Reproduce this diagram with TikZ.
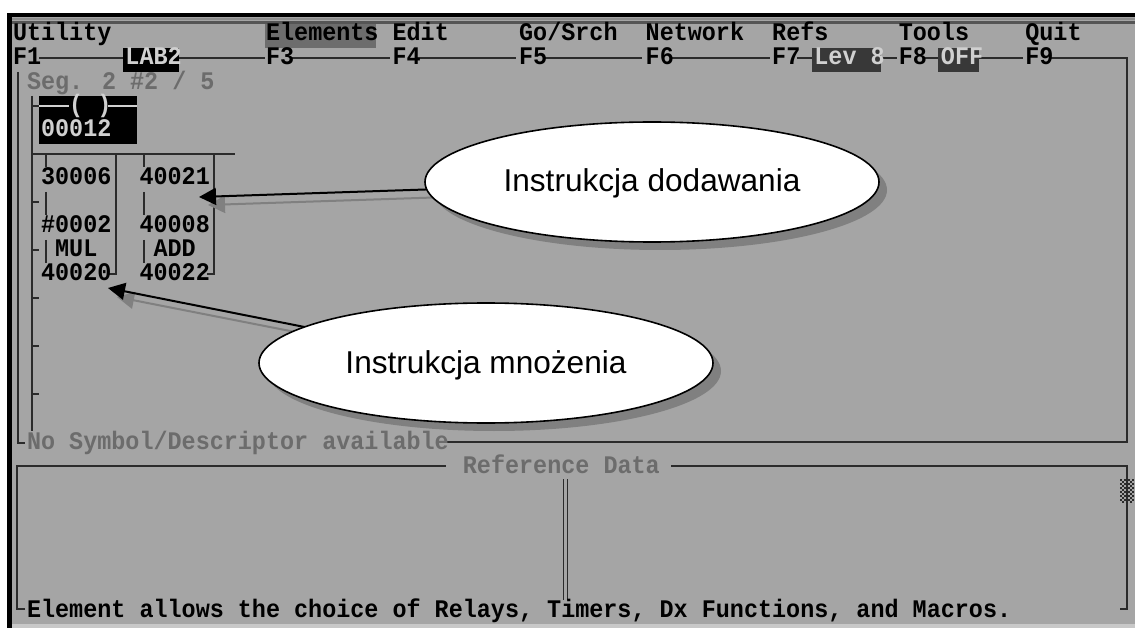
\documentclass[tikz,border=0pt]{standalone}
\usepackage{fontspec}
\usepackage{graphicx}
\usetikzlibrary{shapes.geometric,arrows.meta}
\newfontfamily\dosf{Liberation Mono}
\newfontfamily\callf{Liberation Sans}
\definecolor{scr}{HTML}{A5A5A5}
\definecolor{ln}{HTML}{2B2B2B}
\definecolor{shd}{HTML}{808080}
\definecolor{dimtxt}{HTML}{6C6C6C}
\definecolor{revtxt}{HTML}{D0D0D0}
\definecolor{stripe}{HTML}{C8C8C8}
\definecolor{topline}{HTML}{555555}
\tikzset{
  dos/.style={anchor=base west,inner sep=0pt,outer sep=0pt,font=\dosf\bfseries\fontsize{23.43}{24}\selectfont},
  rule/.style={draw=ln,line width=2pt},
  callout/.style={ellipse,minimum width=454pt,minimum height=120pt,inner sep=0pt,outer sep=0pt,
    font=\callf\fontsize{31.6}{36}\selectfont,text height=23pt,text depth=3pt},
  cshadow/.style={callout,fill=shd},
  cmain/.style={callout,fill=white,draw=black,line width=1.6pt},
  pointer/.style={draw=black,line width=2pt,-{Triangle[length=17pt,width=17pt]}},
  spointer/.style={draw=shd,line width=2pt,-{Triangle[length=17pt,width=17pt]}}
}
\newcommand{\dostxt}[5]{\node[dos,text=#2] (#1) at ({13+14.06*#3},#4) {\scalebox{1}[1.08]{#5}};}
\begin{document}
\begin{tikzpicture}[x=1pt,y=-1pt]
\useasboundingbox (0,0) rectangle (1135,628);
% screen
\fill[white] (0,0) rectangle (1135,628);
\fill[scr] (7,13) rectangle (1135,624);
\fill[stripe] (12,624) rectangle (1135,628);
\fill[black] (7,13) rectangle (1135,17.5);
\fill[black] (7,13) rectangle (12,628);
\fill[shd!90] (12,18) rectangle (1135,20);
\draw[draw=topline,line width=2.2pt] (12,22.5) -- (1135,22.5);
% highlights
\fill[shd!85!black] (265,24) rectangle (376,48);
\fill[black] (123,48) rectangle (179,72);
\fill[black!78] (812,48) rectangle (881,72);
\fill[black!78] (938,48) rectangle (979,72);
% menu rule
\draw[rule] (39,58) -- (123,58) (179,58) -- (265,58) (291,58) -- (390,58) (417,58) -- (516,58)
  (545,58) -- (642,58) (671,58) -- (770,58) (797,58) -- (812,58) (881,58) -- (897,58)
  (924,58) -- (938,58) (979,58) -- (1023,58) (1050,58) -- (1127,58) -- (1127,442) -- (447,442);
\draw[rule] (18,72) -- (18,443) -- (25,443);
\draw[rule] (25,609) -- (17,609) -- (17,466) -- (446,466);
\draw[rule] (671,466) -- (1127,466) -- (1127,609) -- (1120,609);
\draw[rule,line width=1.3pt] (563.5,479) -- (563.5,600) (567.5,479) -- (567.5,600);
% scrollbar
\foreach \i in {0,...,6}{\foreach \j in {0,...,11}{
  \pgfmathtruncatemacro{\k}{mod(\i+\j,2)}
  \ifnum\k=0 \fill[ln] ({1120+2*\i},{479+2*\j}) rectangle +(2,2);\fi
}}
% ladder rail
\draw[rule,line width=2.6pt] (32,96) -- (32,431);
\foreach \yy in {202,250,298,346,394}{\draw[rule] (32,\yy) -- (39,\yy);}
\draw[rule] (32,106) -- (39,106);
\draw[rule] (32,154.5) -- (235,154.5);
\draw[rule] (116,154.5) -- (116,274) -- (108,274);
\draw[rule] (214,154.5) -- (214,274) -- (207,274);
\foreach \xx in {46,144}{
  \draw[rule] (\xx,155) -- (\xx,167) (\xx,192) -- (\xx,215) (\xx,240) -- (\xx,263);
}
% coil
\fill[black] (39,96) rectangle (137,144);
\draw[draw=revtxt,line width=2pt] (39,106) -- (69,106) (108,106) -- (137,106);
% menu text
\dostxt{mUtil}{black}{0}{41}{Utility}
\dostxt{mElem}{black}{18}{41}{Elements}
\dostxt{mEdit}{black}{27}{41}{Edit}
\dostxt{mGo}{black}{36}{41}{Go/Srch}
\dostxt{mNet}{black}{45}{41}{Network}
\dostxt{mRefs}{black}{54}{41}{Refs}
\dostxt{mTools}{black}{63}{41}{Tools}
\dostxt{mQuit}{black}{72}{41}{Quit}
\dostxt{fOne}{black}{0}{65}{F1}
\dostxt{fLab}{revtxt}{8}{65}{LAB2}
\dostxt{fThree}{black}{18}{65}{F3}
\dostxt{fFour}{black}{27}{65}{F4}
\dostxt{fFive}{black}{36}{65}{F5}
\dostxt{fSix}{black}{45}{65}{F6}
\dostxt{fSeven}{black}{54}{65}{F7}
\dostxt{fLev}{revtxt}{57}{65}{Lev 8}
\dostxt{fEight}{black}{63}{65}{F8}
\dostxt{fOff}{revtxt}{66}{65}{OFF}
\dostxt{fNine}{black}{72}{65}{F9}
% ladder text
\dostxt{tSeg}{dimtxt}{1}{90}{Seg. 2 \#2 / 5}
\dostxt{tCoil}{revtxt}{4}{113}{( )}
\dostxt{tCoilN}{revtxt}{2}{137}{00012}
\dostxt{tA}{black}{2}{185}{30006}
\dostxt{tB}{black}{9}{185}{40021}
\dostxt{tC}{black}{2}{233}{\#0002}
\dostxt{tD}{black}{9}{233}{40008}
\dostxt{tE}{black}{3}{257}{MUL}
\dostxt{tF}{black}{10}{257}{ADD}
\dostxt{tG}{black}{2}{281}{40020}
\dostxt{tH}{black}{9}{281}{40022}
\dostxt{tNo}{dimtxt}{1}{449}{No Symbol/Descriptor available}
\dostxt{tRef}{dimtxt}{32}{473}{Reference Data}
\dostxt{tEl}{black}{1}{617}{Element allows the choice of Relays, Timers, Dx Functions, and Macros.}
% callouts
\coordinate (tipA) at (199,197);
\coordinate (tipB) at (108,288);
\coordinate (tipAs) at (208,205);
\coordinate (tipBs) at (117,297);
\node[cshadow] (sA) at (660,190) {};
\node[cshadow] (sB) at (494,371) {};
\draw[spointer] (sA) -- (tipAs);
\draw[spointer] (sB) -- (tipBs);
\node[cmain] (eA) at (652,182) {Instrukcja dodawania};
\node[cmain] (eB) at (486,363) {Instrukcja mnożenia};
\draw[pointer] (eA) -- (tipA);
\draw[pointer] (eB) -- (tipB);
\end{tikzpicture}
\end{document}
